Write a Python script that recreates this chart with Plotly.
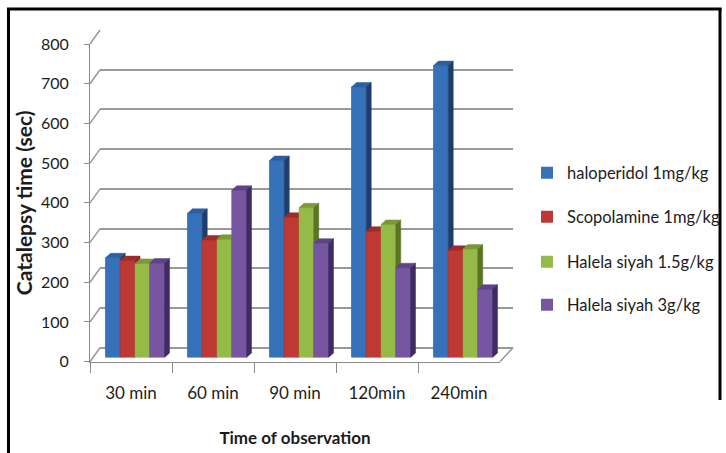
import plotly.graph_objects as go

# ---- data ----
categories = ["30 min", "60 min", "90 min", "120min", "240min"]
series_names = [
    "haloperidol 1mg/kg",
    "Scopolamine 1mg/kg",
    "Halela siyah 1.5g/kg",
    "Halela siyah 3g/kg",
]
haloperidol = [251, 363, 496, 681, 735]
scopolamine = [244, 296, 353, 318, 270]
halela_15 = [237, 298, 377, 335, 273]
halela_3 = [238, 421, 288, 226, 172]
y_ticks = list(range(0, 801, 100))

series_values = [haloperidol, scopolamine, halela_15, halela_3]

# ---- styling ----
front_colors = ["#3672BA", "#BE3934", "#96BA48", "#7656A0"]
top_colors = ["#2C5F9E", "#9C2D29", "#7A9A38", "#5D4487"]
side_colors = ["#1E3C6E", "#8A2220", "#5B7424", "#3F2A62"]
FONT = "Lato, sans-serif"
TEXT = "#1c1c1c"
GRID = "#999999"
AXIS = "#8a8a8a"

W, H = 726, 453


def fx(p):
    return p / W


def fy(p):
    return 1 - p / H


# planes of the pseudo-3D frame (pixel geometry): back wall, bar row, front edge
BACK = dict(x0=100, x1=513, yb=347.7, yt=30.0)
BARS = dict(x0=94, x1=504, yb=357.5, yt=39.8)
FRONT = dict(x0=90, x1=500, yb=361.7, yt=44.0)
YMAX = 800

# bar layout in category units
n = len(series_values)
bar_w = 0.18
group_start = -bar_w * n / 2
# depth of each bar's top/side face (pixels -> bar-axis units)
dx_px, dy_px = 5.0, 4.5
dxu = dx_px * len(categories) / (BARS["x1"] - BARS["x0"])
dyu = dy_px * YMAX / (BARS["yb"] - BARS["yt"])

fig = go.Figure()

# invisible anchor traces so the back-wall and front-axis subplots are drawn
fig.add_trace(go.Scatter(x=[0], y=[0], xaxis="x", yaxis="y", mode="markers",
                         marker=dict(opacity=0), showlegend=False, hoverinfo="skip"))

xs = list(range(len(categories)))
legend_ids = ["legend", "legend2", "legend3", "legend4"]

# front faces as real bars (also drive the legend)
for i, (name, vals) in enumerate(zip(series_names, series_values)):
    fig.add_trace(go.Bar(
        x=xs, y=vals, name=name, xaxis="x2", yaxis="y2",
        width=bar_w, offset=group_start + i * bar_w,
        marker=dict(color=front_colors[i], line=dict(width=0)),
        legend=legend_ids[i], hoverinfo="skip",
    ))

# shaded faces, drawn series by series so neighbours overlap correctly
for i, vals in enumerate(series_values):
    fx_, fy_, tx, ty, sx, sy = [], [], [], [], [], []
    for c, v in zip(xs, vals):
        xl = c + group_start + i * bar_w
        xr = xl + bar_w
        fx_ += [xl, xr, xr, xl, xl, None]
        fy_ += [0, 0, v, v, 0, None]
        tx += [xl, xr, xr + dxu, xl + dxu, xl, None]
        ty += [v, v, v + dyu, v + dyu, v, None]
        sx += [xr, xr + dxu, xr + dxu, xr, xr, None]
        sy += [0, dyu, v + dyu, v, 0, None]
    for px_, py_, col in ((fx_, fy_, front_colors[i]), (tx, ty, top_colors[i]), (sx, sy, side_colors[i])):
        fig.add_trace(go.Scatter(
            x=px_, y=py_, xaxis="x2", yaxis="y2", mode="lines",
            fill="toself", fillcolor=col, line=dict(width=0.5, color=col),
            showlegend=False, hoverinfo="skip",
        ))

fig.add_trace(go.Scatter(x=categories, y=[0] * len(categories), xaxis="x3", yaxis="y3",
                         mode="markers", marker=dict(opacity=0),
                         showlegend=False, hoverinfo="skip"))

xtickfont = dict(family=FONT, size=17, color=TEXT)
ytickfont = dict(family=FONT, size=16, color=TEXT)

# frame connectors: left wall edges at every tick and right floor edge
yscale = (FRONT["yb"] - FRONT["yt"]) / YMAX
shapes = []
for v in y_ticks:
    shapes.append(dict(type="line", xref="paper", yref="paper",
                       x0=fx(FRONT["x0"]), y0=fy(FRONT["yb"] - v * yscale),
                       x1=fx(BACK["x0"]), y1=fy(BACK["yb"] - v * yscale),
                       line=dict(color=GRID, width=1.5), layer="below"))
shapes.append(dict(type="line", xref="paper", yref="paper",
                   x0=fx(FRONT["x1"]), y0=fy(FRONT["yb"]),
                   x1=fx(BACK["x1"]), y1=fy(BACK["yb"]),
                   line=dict(color=GRID, width=1.5), layer="below"))
# outer black frame
for x0, y0, x1, y1 in ((7, 9, 721.5, 9), (8.5, 8, 8.5, 453), (720, 8, 720, 400)):
    shapes.append(dict(type="line", xref="paper", yref="paper",
                       x0=fx(x0), y0=fy(y0), x1=fx(x1), y1=fy(y1),
                       line=dict(color="black", width=3)))

legend_rows = [173, 217, 262, 305]
legends = {}
for lid, row in zip(legend_ids, legend_rows):
    legends[lid] = dict(x=fx(527), y=fy(row), xanchor="left", yanchor="middle",
                        bgcolor="rgba(0,0,0,0)", font=dict(family=FONT, size=16.5, color=TEXT),
                        itemclick=False)

fig.update_layout(
    width=W, height=H, autosize=False,
    margin=dict(l=0, r=0, t=0, b=0),
    paper_bgcolor="white", plot_bgcolor="rgba(0,0,0,0)",
    barmode="overlay",
    showlegend=True,
    shapes=shapes,
    # back wall with gridlines
    xaxis=dict(domain=[fx(BACK["x0"]), fx(BACK["x1"])], range=[-0.5, 4.5],
               visible=False, anchor="y", automargin=False),
    yaxis=dict(domain=[fy(BACK["yb"]), fy(BACK["yt"])], range=[0, YMAX],
               tickvals=y_ticks, showticklabels=False, ticks="",
               showgrid=True, gridcolor=GRID, gridwidth=2,
               zeroline=True, zerolinecolor=GRID, zerolinewidth=2,
               showline=False, anchor="x", automargin=False),
    # bar row
    xaxis2=dict(domain=[fx(BARS["x0"]), fx(BARS["x1"])], range=[-0.5, 4.5],
                visible=False, anchor="y2", automargin=False),
    yaxis2=dict(domain=[fy(BARS["yb"]), fy(BARS["yt"])], range=[0, YMAX],
                visible=False, anchor="x2", automargin=False),
    # front axes with labels
    xaxis3=dict(domain=[fx(FRONT["x0"]), fx(FRONT["x1"])], type="category",
                categoryorder="array", categoryarray=categories, range=[-0.5, 4.5],
                tickson="boundaries", ticks="outside", ticklen=10, tickcolor=AXIS,
                showline=True, linecolor=AXIS, linewidth=1, showgrid=False,
                tickfont=xtickfont, ticklabelstandoff=16,
                title=dict(text="<b>Time of observation</b>", standoff=30,
                           font=dict(family=FONT, size=17, color=TEXT)),
                anchor="y3", automargin=False),
    yaxis3=dict(domain=[fy(FRONT["yb"]), fy(FRONT["yt"])], range=[0, YMAX],
                tickvals=y_ticks, ticks="outside", ticklen=5, tickcolor=AXIS,
                showline=True, linecolor=AXIS, linewidth=1, showgrid=False,
                zeroline=False, tickfont=ytickfont, ticklabelstandoff=12,
                title=dict(text="<b>Catalepsy time (sec)</b>", standoff=2,
                           font=dict(family=FONT, size=21, color=TEXT)),
                anchor="x3", automargin=False),
    **legends,
)

fig.write_html("out.html")
